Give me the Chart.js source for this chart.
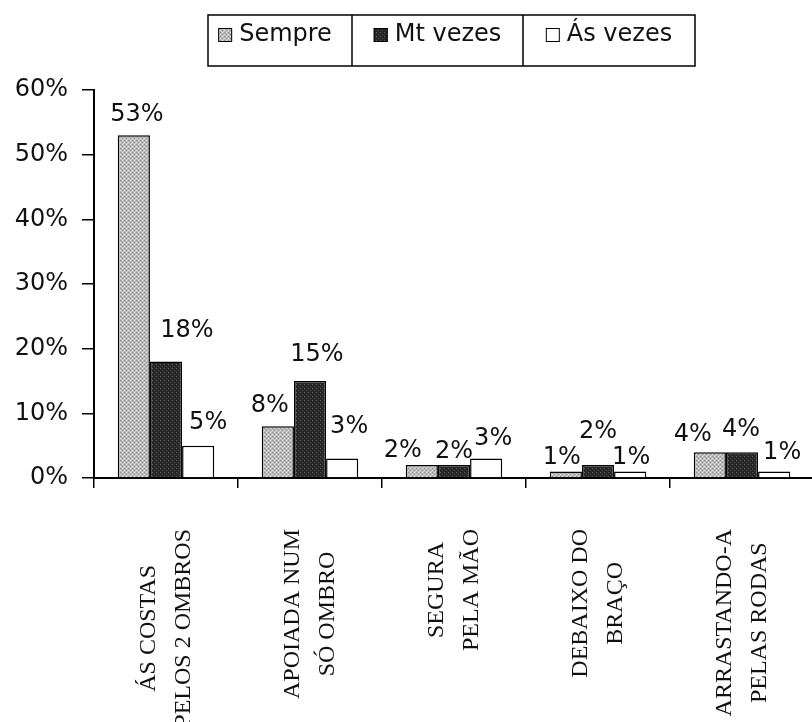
<!DOCTYPE html>
<html>
<head>
<meta charset="utf-8">
<script src="https://cdn.jsdelivr.net/npm/chart.js@4/dist/chart.umd.min.js"></script>
<style>
  html, body { margin: 0; padding: 0; background: #fff; overflow: hidden; }
  canvas { display: block; }
</style>
</head>
<body>
<canvas id="chart" width="816" height="722"></canvas>
<script>
// Categories (multi-line, drawn rotated under the axis)
const categories = [
  ['ÁS COSTAS', 'PELOS 2 OMBROS'],
  ['APOIADA NUM', 'SÓ OMBRO'],
  ['SEGURA', 'PELA MÃO'],
  ['DEBAIXO DO', 'BRAÇO'],
  ['ARRASTANDO-A', 'PELAS RODAS']
];
const seriesNames = ['Sempre', 'Mt vezes', 'Ás vezes'];
const sempre  = [53, 8, 2, 1, 4];
const mtVezes = [18, 15, 2, 2, 4];
const asVezes = [5, 3, 3, 1, 1];
const yTickValues = [0, 10, 20, 30, 40, 50, 60];

// Hand-placed nudges [dx, dy] for the value labels so neighbours don't collide
// (dy is the label centre's distance from the bar top)
const labelNudge = [
  [[3, -21], [-8, -21], [-19, -14], [-4, -14], [-17, -17]],
  [[21, -31], [7, -26], [0, -13], [0, -33], [-1, -22]],
  [[10, -23], [7, -32], [7, -20], [1, -14], [8, -19]]
];

// Small dithered fills for the bars
function makePattern(base, dots) {
  const c = document.createElement('canvas');
  c.width = 4; c.height = 4;
  const g = c.getContext('2d');
  g.fillStyle = base;
  g.fillRect(0, 0, 4, 4);
  dots.forEach(([x, y, col]) => { g.fillStyle = col; g.fillRect(x, y, 1, 1); });
  return g.createPattern(c, 'repeat');
}
const lightFill = makePattern('#bcbcbc', [[0,0,'#8e8e8e'],[2,2,'#8e8e8e'],[2,0,'#dedede'],[0,2,'#dedede'],[1,1,'#a8a8a8'],[3,3,'#cfcfcf']]);
const darkFill  = makePattern('#2a2a2a', [[0,0,'#5a5a5a'],[2,2,'#484848'],[1,3,'#1a1a1a'],[3,1,'#1a1a1a']]);
const fills = [lightFill, darkFill, '#ffffff'];

const TEXT = '#111';
const SANS = '"DejaVu Sans", sans-serif';
const SERIF = '"Liberation Serif", serif';

// Boxed legend across the top
const boxedLegend = {
  id: 'boxedLegend',
  afterDraw(chart) {
    const ctx = chart.ctx;
    const x0 = 208, x1 = 695, y0 = 15, y1 = 66;
    const cells = [x0, 352, 523, x1];
    ctx.save();
    ctx.strokeStyle = '#000';
    ctx.lineWidth = 1.5;
    ctx.strokeRect(x0, y0, x1 - x0, y1 - y0);
    ctx.beginPath();
    ctx.moveTo(cells[1], y0); ctx.lineTo(cells[1], y1);
    ctx.moveTo(cells[2], y0); ctx.lineTo(cells[2], y1);
    ctx.stroke();
    ctx.font = '24px ' + SANS;
    ctx.textBaseline = 'middle';
    ctx.textAlign = 'left';
    chart.data.datasets.forEach((ds, i) => {
      const tw = ctx.measureText(ds.label).width;
      const sw = 14, gap = 7;
      const cx = (cells[i] + cells[i + 1]) / 2 - (i === 0 ? 5 : 0);
      const start = cx - (sw + gap + tw) / 2;
      const sy = 28;
      ctx.fillStyle = ds.backgroundColor;
      ctx.fillRect(start, sy, sw, sw);
      ctx.lineWidth = 1;
      ctx.strokeStyle = '#000';
      ctx.strokeRect(start + 0.5, sy + 0.5, sw - 1, sw - 1);
      ctx.fillStyle = TEXT;
      ctx.fillText(ds.label, start + sw + gap, 35);
    });
    ctx.restore();
  }
};

// Percent labels above each bar
const valueLabels = {
  id: 'valueLabels',
  afterDatasetsDraw(chart) {
    const ctx = chart.ctx;
    ctx.save();
    ctx.font = '24px ' + SANS;
    ctx.fillStyle = TEXT;
    ctx.textAlign = 'center';
    ctx.textBaseline = 'middle';
    chart.data.datasets.forEach((ds, di) => {
      chart.getDatasetMeta(di).data.forEach((bar, i) => {
        const [dx, dy] = labelNudge[di][i];
        ctx.fillText(ds.data[i] + '%', bar.x + dx, bar.y + dy);
      });
    });
    ctx.restore();
  }
};

// Rotated category labels: lines centred on each other, block starting below the axis
const rotatedCategoryLabels = {
  id: 'rotatedCategoryLabels',
  afterDraw(chart) {
    const ctx = chart.ctx;
    const xs = chart.scales.x;
    const top = chart.chartArea.bottom + 51;
    const lineGap = 35;
    ctx.save();
    ctx.font = '24px ' + SERIF;
    ctx.fillStyle = TEXT;
    ctx.textAlign = 'center';
    ctx.textBaseline = 'middle';
    chart.data.labels.forEach((lines, i) => {
      const x = xs.getPixelForValue(i);
      const maxW = Math.max(...lines.map(l => ctx.measureText(l).width));
      const cy = top + maxW / 2;
      lines.forEach((line, k) => {
        const off = (k - (lines.length - 1) / 2) * lineGap;
        ctx.save();
        ctx.translate(x + off, cy);
        ctx.rotate(-Math.PI / 2);
        ctx.fillText(line, 0, 0);
        ctx.restore();
      });
    });
    ctx.restore();
  }
};

new Chart(document.getElementById('chart'), {
  type: 'bar',
  data: {
    labels: categories,
    datasets: [sempre, mtVezes, asVezes].map((vals, i) => ({
      label: seriesNames[i],
      data: vals,
      backgroundColor: fills[i],
      borderColor: '#000',
      borderWidth: 1.5,
      categoryPercentage: 0.67,
      barPercentage: 1.0
    }))
  },
  options: {
    responsive: false,
    animation: false,
    devicePixelRatio: 1,
    layout: { padding: { top: 90, right: 2, bottom: 0, left: 0 } },
    plugins: {
      legend: { display: false },
      tooltip: { enabled: false }
    },
    scales: {
      x: {
        offset: true,
        grid: {
          offset: true,
          drawOnChartArea: false,
          drawTicks: true,
          tickLength: 10,
          color: '#000',
          lineWidth: 1.5
        },
        border: { color: '#000', width: 2 },
        ticks: { display: false },
        afterFit(scale) { scale.height = 244; }
      },
      y: {
        min: 0,
        max: 60,
        afterBuildTicks(scale) { scale.ticks = yTickValues.map(v => ({ value: v })); },
        grid: {
          drawOnChartArea: false,
          drawTicks: true,
          tickLength: 12,
          color: '#000',
          lineWidth: 1.5
        },
        border: { color: '#000', width: 2 },
        ticks: {
          padding: 14,
          color: TEXT,
          font: { family: SANS, size: 24 },
          callback: v => v + '%'
        },
        afterFit(scale) { scale.width = 94; }
      }
    }
  },
  plugins: [boxedLegend, valueLabels, rotatedCategoryLabels]
});
</script>
</body>
</html>
